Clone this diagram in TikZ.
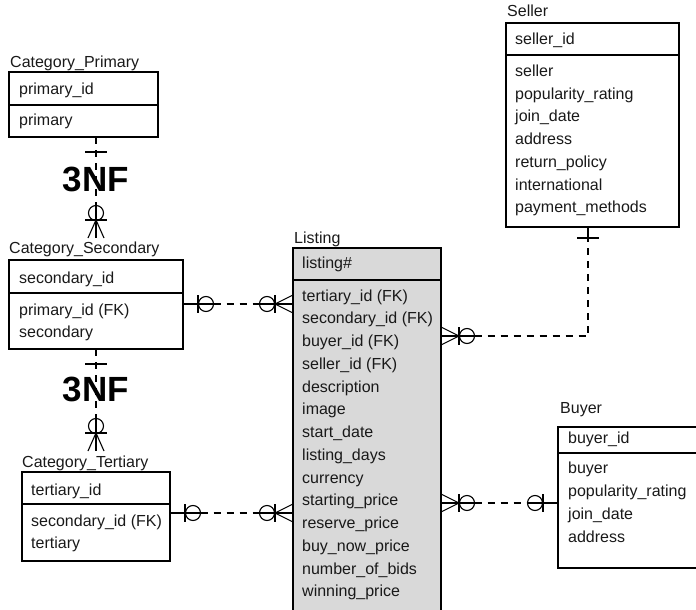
\documentclass[tikz,border=0pt]{standalone}
\usepackage{fontspec}
\setmainfont{Liberation Sans}
\usetikzlibrary{calc}
\newcommand{\ZOh}[2]{%
  \draw[sym] (#1) -- ($(#1)+(#2*30.5,0)$);
  \draw[sym] ($(#1)+(#2*15,-9)$) -- ($(#1)+(#2*15,9)$);
  \draw[sym] ($(#1)+(#2*23,0)$) circle[radius=7.5pt];}
\newcommand{\ZMh}[2]{%
  \draw[sym] (#1) -- ($(#1)+(#2*33.5,0)$);
  \draw[sym] ($(#1)+(#2*18,0)$) -- ($(#1)+(0,-9)$);
  \draw[sym] ($(#1)+(#2*18,0)$) -- ($(#1)+(0,9)$);
  \draw[sym] ($(#1)+(#2*18,-9)$) -- ($(#1)+(#2*18,9)$);
  \draw[sym] ($(#1)+(#2*26,0)$) circle[radius=7.5pt];}
\newcommand{\ZMv}[1]{% #1 = foot end point (below)
  \draw[sym] ($(#1)+(0,-32.5)$) -- (#1);
  \draw[sym] ($(#1)+(0,-18)$) -- ($(#1)+(-8,0)$);
  \draw[sym] ($(#1)+(0,-18)$) -- ($(#1)+(8,0)$);
  \draw[sym] ($(#1)+(-11,-18)$) -- ($(#1)+(11,-18)$);
  \draw[sym] ($(#1)+(0,-25)$) circle[radius=7.5pt];}
\begin{document}
\begin{tikzpicture}[x=1pt,y=-1pt,
  tbl/.style={draw=black, line width=1.2pt, anchor=north west, inner sep=0pt, outer sep=0pt},
  ent/.style={anchor=base west, inner sep=0pt, text=black!90, font=\fontsize{16}{18}\selectfont},
  nf/.style={inner sep=0pt, font=\fontsize{35}{40}\selectfont\bfseries},
  rel/.style={line width=1.1pt, dash pattern=on 7pt off 6pt},
  sym/.style={line width=1.1pt},
  divl/.style={line width=1.2pt}]
\useasboundingbox (0,0) rectangle (696,610);
\clip (0,0) rectangle (696,610);
\coordinate (x96) at (96,0);
\coordinate (x588) at (588,0);

% ---------- tables ----------
\node[tbl, minimum width=149pt, minimum height=65pt] (cp) at (9,72) {};
\draw[divl] (cp.west |- 0,105) -- (cp.east |- 0,105);
\node[ent] (cpt) at (10,67) {Category\_Primary};
\node[ent] (cp1) at (19,95) {primary\_id};
\node[ent] (cp2) at (19,125) {primary};

\node[tbl, minimum width=174pt, minimum height=89pt] (cs) at (9,260) {};
\draw[divl] (cs.west |- 0,293) -- (cs.east |- 0,293);
\node[ent] (cst) at (9,253) {Category\_Secondary};
\node[ent] (cs1) at (19,283) {secondary\_id};
\node[ent] (cs2) at (19,315) {primary\_id (FK)};
\node[ent] (cs3) at (19,337) {secondary};

\node[tbl, minimum width=148pt, minimum height=89pt] (ct) at (22,472) {};
\draw[divl] (ct.west |- 0,504) -- (ct.east |- 0,504);
\node[ent] (ctt) at (22,467) {Category\_Tertiary};
\node[ent] (ct1) at (31,495) {tertiary\_id};
\node[ent] (ct2) at (31,526) {secondary\_id (FK)};
\node[ent] (ct3) at (31,548) {tertiary};

\node[tbl, fill=black!15, minimum width=148pt, minimum height=380pt] (lst) at (293,248) {};
\draw[divl] (lst.west |- 0,280) -- (lst.east |- 0,280);
\node[ent] (lstt) at (294,243) {Listing};
\node[ent] (lk) at (302,268) {listing\#};
\foreach \t [count=\i from 0] in {tertiary\_id (FK), secondary\_id (FK), buyer\_id (FK), seller\_id (FK), description, image, start\_date, listing\_days, currency, starting\_price, reserve\_price, buy\_now\_price, number\_of\_bids, winning\_price}
  \node[ent] (lr\i) at (302,{301+22.75*\i}) {\t};

\node[tbl, minimum width=173pt, minimum height=204pt] (sel) at (506,23) {};
\draw[divl] (sel.west |- 0,55) -- (sel.east |- 0,55);
\node[ent] (selt) at (507,17) {Seller};
\node[ent] (sk) at (515,45) {seller\_id};
\foreach \t [count=\i from 0] in {seller, popularity\_rating, join\_date, address, return\_policy, international, payment\_methods}
  \node[ent] (sr\i) at (515,{76.5+22.7*\i}) {\t};

\node[tbl, minimum width=170pt, minimum height=141pt] (buy) at (558,427) {};
\draw[divl] (buy.west |- 0,453) -- (buy.east |- 0,453);
\node[ent] (buyt) at (560,413) {Buyer};
\node[ent] (bk) at (568,443) {buyer\_id};
\foreach \t [count=\i from 0] in {buyer, popularity\_rating, join\_date, address}
  \node[ent] (br\i) at (568,{473+23*\i}) {\t};

% ---------- vertical 3NF relations ----------
\coordinate (v1a) at (cp.south -| x96);
\coordinate (v1b) at ($(cs.north -| x96)+(0,-22)$);
\draw[rel] (v1a) -- ($(v1b)+(0,-32.5)$);
\draw[sym] ($(v1a)+(-11,15)$) -- ($(v1a)+(11,15)$);
\ZMv{v1b}
\node[nf] (nf1) at ($(v1a)+(0,42)$) {3NF};

\coordinate (v2a) at (cs.south -| x96);
\coordinate (v2b) at ($(ct.north -| x96)+(0,-21)$);
\draw[rel] (v2a) -- ($(v2b)+(0,-32.5)$);
\draw[sym] ($(v2a)+(-11,15)$) -- ($(v2a)+(11,15)$);
\ZMv{v2b}
\node[nf] (nf2) at ($(v2a)+(0,40)$) {3NF};

% ---------- horizontal relations ----------
\coordinate (h1a) at (cs.east |- 0,304);
\coordinate (h1b) at (lst.west |- 0,304);
\draw[rel] ($(h1a)+(30.5,0)$) -- ($(h1b)+(-33.5,0)$);
\ZOh{h1a}{1}
\ZMh{h1b}{-1}

\coordinate (h2a) at (ct.east |- 0,513);
\coordinate (h2b) at (lst.west |- 0,513);
\draw[rel] ($(h2a)+(30.5,0)$) -- ($(h2b)+(-33.5,0)$);
\ZOh{h2a}{1}
\ZMh{h2b}{-1}

% Listing -> Seller
\coordinate (s1) at (lst.east |- 0,336);
\coordinate (s2) at (sel.south -| x588);
\coordinate (s3) at ($(s2)+(0,11)$);
\draw[rel] ($(s1)+(33.5,0)$) -- (x588 |- s1) -- (s3);
\draw[sym] (s2) -- (s3);
\draw[sym] ($(s3)+(-11,0)$) -- ($(s3)+(11,0)$);
\ZMh{s1}{1}

% Listing -> Buyer
\coordinate (b1) at (lst.east |- 0,503);
\coordinate (b2) at (buy.west |- 0,503);
\draw[rel] ($(b1)+(33.5,0)$) -- ($(b2)+(-30.5,0)$);
\ZMh{b1}{1}
\ZOh{b2}{-1}
\end{tikzpicture}
\end{document}
